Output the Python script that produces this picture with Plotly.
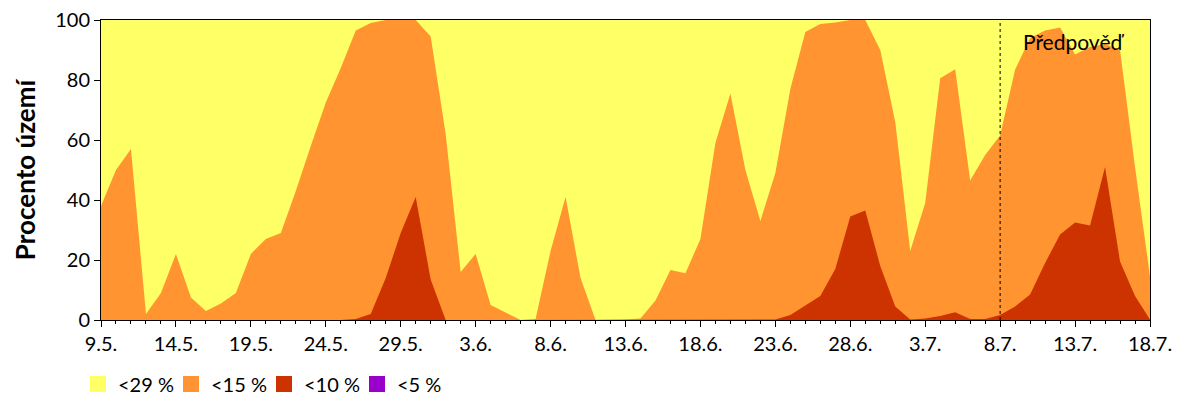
import pandas as pd
import plotly.graph_objects as go

dates = pd.date_range("2024-05-09", "2024-07-18", freq="D")

lt29 = [100, 100, 100, 100, 100, 100, 100, 100, 100, 100,
        100, 100, 100, 100, 100, 100, 100, 100, 100, 100,
        100, 100, 100, 100, 100, 100, 100, 100, 100, 100,
        100, 100, 100, 100, 100, 100, 100, 100, 100, 100,
        100, 100, 100, 100, 100, 100, 100, 100, 100, 100,
        100, 100, 100, 100, 100, 100, 100, 100, 100, 100,
        100, 100, 100, 100, 100, 100, 100, 100, 100, 100, 100]

lt15 = [38, 50, 57, 2, 9, 22, 7.5, 3, 5.5, 9,
        22, 27, 29, 43, 58, 72.5, 84, 96.5, 99, 100,
        100, 100, 94.5, 62, 16, 22, 5, 2.5, 0, 0.3,
        23, 41, 14, 0, 0, 0.2, 0.5, 6.5, 16.7, 15.6,
        27, 59, 75.5, 50, 33, 49, 77, 96, 98.7, 99.2,
        100, 100, 90, 66, 23, 39, 80.6, 83.6, 46.5, 55,
        61.5, 83.5, 94, 96.5, 97.5, 88.5, 91, 92, 90, 51, 14.5]

lt10 = [0, 0, 0, 0, 0, 0, 0, 0, 0, 0,
        0, 0, 0, 0, 0, 0, 0, 0.3, 2, 14,
        29, 41, 13.5, 0, 0, 0, 0, 0, 0, 0,
        0, 0, 0, 0, 0, 0, 0, 0, 0, 0,
        0, 0, 0, 0, 0, 0.2, 1.7, 5, 8, 17,
        34.5, 36.5, 18, 4.5, 0.2, 0.5, 1.3, 2.6, 0.3, 0.3,
        1.7, 4.5, 8.5, 19, 28.5, 32.5, 31.5, 51, 19.5, 8, 0.2]

lt5 = [0] * 71

series_names = ["<29 %", "<15 %", "<10 %", "<5 %"]
series_colors = ["#FFFF66", "#FF9430", "#CC3300", "#9900CC"]
series_values = [lt29, lt15, lt10, lt5]

forecast_start = "2024-07-08"
forecast_label = "Předpověď"

FONT = "Lato"

fig = go.Figure()
for name, color, vals in zip(series_names, series_colors, series_values):
    fig.add_trace(go.Scatter(
        x=dates, y=vals, mode="lines", fill="tozeroy",
        fillcolor=color, line=dict(width=0, color=color),
        showlegend=False, hoverinfo="skip",
    ))
# legend swatches
for name, color in zip(series_names, series_colors):
    fig.add_trace(go.Scatter(
        x=[None], y=[None], mode="markers", name=name,
        marker=dict(symbol="square", size=18, color=color),
    ))

fig.add_shape(type="line", x0=forecast_start, x1=forecast_start,
              y0=0, y1=1, xref="x", yref="paper",
              line=dict(color="black", width=1, dash="3px,3px"))
fig.add_annotation(x=0.9266, y=0.927, xref="paper", yref="paper",
                   xanchor="center", yanchor="middle",
                   text=forecast_label, showarrow=False,
                   font=dict(size=21, color="black", family=FONT))

fig.update_layout(
    width=1200, height=400,
    margin=dict(l=101, r=50, t=20, b=80, autoexpand=False),
    paper_bgcolor="white", plot_bgcolor="white",
    font=dict(family=FONT, size=20, color="black"),
    legend=dict(orientation="h", x=0.065, xanchor="left", xref="container",
                y=0.04, yanchor="middle", yref="container",
                font=dict(size=20, family=FONT),
                entrywidth=48, entrywidthmode="pixels",
                itemsizing="trace"),
)
fig.update_xaxes(
    range=[dates[0], dates[-1]],
    tick0=dates[0], dtick=5 * 86400000, tickformat="%-d.%-m.",
    ticks="outside", ticklen=6, tickcolor="black",
    minor=dict(dtick=86400000, ticks="outside", ticklen=3, tickcolor="black"),
    showline=True, linecolor="black", linewidth=1, mirror=True,
    showgrid=False, zeroline=False,
    tickfont=dict(size=20, family=FONT),
)
fig.update_yaxes(
    range=[0, 100], dtick=20,
    ticks="outside", ticklen=6, tickcolor="black",
    showline=True, linecolor="black", linewidth=1, mirror=True,
    showgrid=False, zeroline=False,
    tickfont=dict(size=20, family=FONT),
    title=dict(text="<b>Procento území</b>", font=dict(size=26, family=FONT), standoff=12),
)

fig.write_html("out.html")
